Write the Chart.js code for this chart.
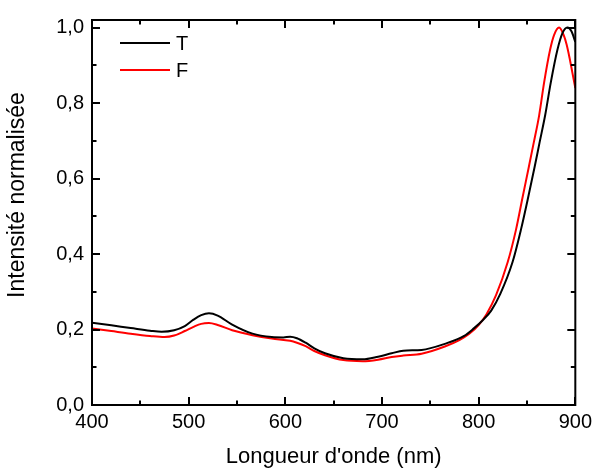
<!DOCTYPE html>
<html>
<head>
<meta charset="utf-8">
<script src="https://cdn.jsdelivr.net/npm/chart.js@4"></script>
<style>
  html, body { margin: 0; padding: 0; background: #fff; }
  #wrap { width: 597px; height: 471px; }
</style>
</head>
<body>
<div id="wrap"><canvas id="myChart"></canvas></div>
<script>
'use strict';

// longueurs d'onde (nm) et intensités
const lambdaT = [400, 420, 440, 460, 472, 485, 496, 505, 513, 521, 530, 545, 566, 586, 598, 605, 612, 621, 630, 641, 660, 680, 696, 710, 722, 741, 765, 785, 795, 804, 813, 822.5, 835, 843.7, 851.3, 858, 863, 868.8, 874.6, 881.5, 886.7, 891.8, 896, 900];
const intensT = [0.218, 0.211, 0.204, 0.197, 0.194, 0.198, 0.209, 0.226, 0.238, 0.243, 0.237, 0.213, 0.189, 0.180, 0.179, 0.181, 0.177, 0.165, 0.150, 0.137, 0.124, 0.121, 0.128, 0.137, 0.144, 0.146, 0.162, 0.183, 0.203, 0.224, 0.250, 0.295, 0.378, 0.464, 0.551, 0.632, 0.695, 0.7675, 0.854, 0.941, 0.985, 1.0, 0.99, 0.962];

const lambdaF = [400, 420, 440, 460, 475, 485, 496, 505, 513, 521, 530, 545, 566, 586, 605, 612, 621, 630, 641, 660, 680, 696, 710, 722, 741, 765, 780, 790, 800, 808, 818, 830, 838.6, 845.5, 852, 857, 862.6, 867.7, 873.9, 878, 883.2, 888, 891, 894, 897, 900];
const intensF = [0.203, 0.196, 0.189, 0.183, 0.180, 0.184, 0.196, 0.207, 0.215, 0.217, 0.212, 0.198, 0.185, 0.176, 0.170, 0.165, 0.156, 0.143, 0.132, 0.119, 0.116, 0.120, 0.127, 0.131, 0.136, 0.155, 0.172, 0.188, 0.212, 0.240, 0.291, 0.378, 0.464, 0.551, 0.632, 0.695, 0.7675, 0.854, 0.941, 0.98, 1.0, 0.98, 0.955, 0.92, 0.88, 0.84];

const xMajor = [400, 500, 600, 700, 800, 900];
const xMinor = [450, 550, 650, 750, 850];
const yMajor = [0, 0.2, 0.4, 0.6, 0.8, 1.0];
const yMinor = [0.1, 0.3, 0.5, 0.7, 0.9];

const FONT = '"Liberation Sans", Arial, sans-serif';

// cadre + graduations vers l'intérieur sur les 4 côtés
const frame = {
    id: 'frame',
    afterDraw(chart) {
        const {ctx, chartArea: a, scales: {x, y}} = chart;
        ctx.save();
        ctx.strokeStyle = '#000';
        ctx.lineWidth = 2;
        ctx.beginPath();
        const tick = (vals, len) => {
            vals.forEach(v => {
                const px = Math.round(x.getPixelForValue(v));
                ctx.moveTo(px, a.bottom); ctx.lineTo(px, a.bottom - len);
                ctx.moveTo(px, a.top); ctx.lineTo(px, a.top + len);
            });
        };
        const ytick = (vals, len) => {
            vals.forEach(v => {
                const py = Math.round(y.getPixelForValue(v));
                ctx.moveTo(a.left, py); ctx.lineTo(a.left + len, py);
                ctx.moveTo(a.right, py); ctx.lineTo(a.right - len, py);
            });
        };
        tick(xMajor, 8); tick(xMinor, 4.5);
        ytick(yMajor, 8); ytick(yMinor, 4.5);
        ctx.stroke();
        ctx.strokeRect(a.left, a.top, a.right - a.left, a.bottom - a.top);

        // titre de l'axe y
        ctx.fillStyle = '#000';
        ctx.font = '23px ' + FONT;
        ctx.textAlign = 'center';
        ctx.textBaseline = 'middle';
        ctx.save();
        ctx.translate(18, 195);
        ctx.rotate(-Math.PI / 2);
        ctx.fillText('Intensité normalisée', 0, 0);
        ctx.restore();

        // légende
        ctx.font = '20px ' + FONT;
        ctx.textAlign = 'left';
        chart.data.datasets.forEach((ds, i) => {
            const ly = 43 + i * 27;
            ctx.strokeStyle = ds.borderColor;
            ctx.lineWidth = 2;
            ctx.beginPath();
            ctx.moveTo(120, ly); ctx.lineTo(170, ly);
            ctx.stroke();
            ctx.fillText(ds.label, 176, ly + 1);
        });
        ctx.restore();
    }
};

const ctx = document.getElementById('myChart').getContext('2d');

new Chart(ctx, {
    type: 'line',
    data: {
        datasets: [
            {
                label: 'T',
                data: lambdaT.map((l, i) => ({x: l, y: intensT[i]})),
                borderColor: '#000000',
                borderWidth: 2,
                pointRadius: 0,
                cubicInterpolationMode: 'monotone',
            },
            {
                label: 'F',
                data: lambdaF.map((l, i) => ({x: l, y: intensF[i]})),
                borderColor: '#ff0000',
                borderWidth: 2,
                pointRadius: 0,
                cubicInterpolationMode: 'monotone',
            },
        ]
    },
    options: {
        responsive: true,
        maintainAspectRatio: false,
        animation: false,
        layout: { padding: { top: 13, right: 19, left: 0, bottom: 0 } },
        plugins: {
            legend: { display: false },
            tooltip: { enabled: false },
        },
        scales: {
            x: {
                type: 'linear',
                min: 400,
                max: 900,
                grid: { display: false, drawTicks: false },
                border: { display: false },
                ticks: {
                    stepSize: 100,
                    padding: 5,
                    color: '#000',
                    font: { family: FONT, size: 20 },
                    maxRotation: 0,
                },
                title: {
                    display: true,
                    text: "Longueur d'onde (nm)",
                    color: '#000',
                    font: { family: FONT, size: 22 },
                    padding: { top: 0, bottom: 1 },
                },
                afterFit(scale) { scale.height = 66; },
            },
            y: {
                min: 0,
                max: 1.02,
                grid: { display: false, drawTicks: false },
                border: { display: false },
                ticks: {
                    stepSize: 0.2,
                    includeBounds: false,
                    padding: 8,
                    color: '#000',
                    font: { family: FONT, size: 20 },
                    callback: v => v.toFixed(1).replace('.', ','),
                },
                afterFit(scale) { scale.width = 92; },
            }
        }
    },
    plugins: [frame]
});
</script>
</body>
</html>
